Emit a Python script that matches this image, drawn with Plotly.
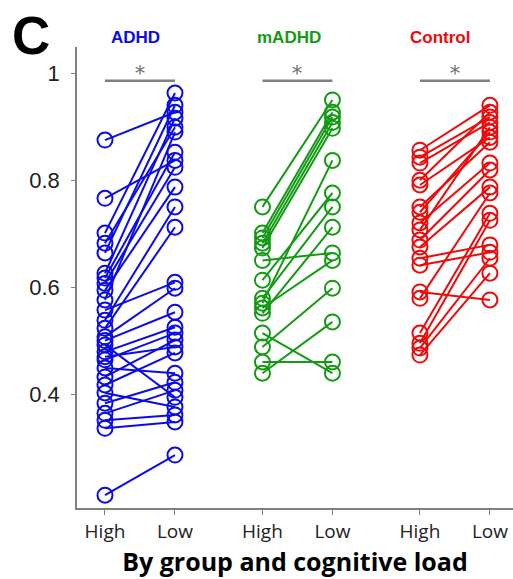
import plotly.graph_objects as go

# Paired scores per subject: (High load, Low load)
adhd_high = [0.875, 0.766, 0.701, 0.682, 0.664, 0.626, 0.617, 0.607, 0.594, 0.576,
             0.557, 0.538, 0.523, 0.507, 0.500, 0.492, 0.479, 0.470, 0.464, 0.449,
             0.432, 0.417, 0.402, 0.383, 0.364, 0.351, 0.336, 0.211]
adhd_low = [0.927, 0.837, 0.963, 0.899, 0.940, 0.916, 0.852, 0.824, 0.787, 0.890,
            0.609, 0.750, 0.712, 0.598, 0.553, 0.394, 0.525, 0.488, 0.514, 0.439,
            0.501, 0.477, 0.376, 0.422, 0.407, 0.361, 0.348, 0.286]

madhd_high = [0.750, 0.701, 0.692, 0.682, 0.673, 0.650, 0.613, 0.579, 0.570, 0.561,
              0.551, 0.514, 0.488, 0.460, 0.439]
madhd_low = [0.950, 0.927, 0.918, 0.908, 0.897, 0.664, 0.776, 0.750, 0.837, 0.650,
             0.712, 0.439, 0.598, 0.460, 0.535]

control_high = [0.856, 0.843, 0.832, 0.800, 0.791, 0.750, 0.740, 0.720, 0.707, 0.688,
                0.675, 0.654, 0.641, 0.591, 0.579, 0.514, 0.495, 0.486, 0.473]
control_low = [0.940, 0.918, 0.908, 0.927, 0.880, 0.871, 0.890, 0.832, 0.899, 0.819,
               0.787, 0.679, 0.665, 0.576, 0.776, 0.738, 0.725, 0.654, 0.626]

groups = ["ADHD", "mADHD", "Control"]
group_colors = ["#0b0be6", "#149a14", "#ee0a0a"]
positions = [(1.0, 2.0), (3.25, 4.25), (5.5, 6.5)]
title_x = [1.43, 3.63, 5.79]
tick_labels = ["High", "Low", "High", "Low", "High", "Low"]
sig_y = 0.986

fig = go.Figure()

data = [(adhd_high, adhd_low), (madhd_high, madhd_low), (control_high, control_low)]
for (hi, lo), (xh, xl), tx, color, name in zip(data, positions, title_x, group_colors, groups):
    xs, ys = [], []
    for h, l in zip(hi, lo):
        xs += [xh, xl, None]
        ys += [h, l, None]
    fig.add_trace(go.Scatter(
        x=xs, y=ys, mode="lines+markers", name=name,
        line=dict(color=color, width=2),
        marker=dict(symbol="circle-open", size=15, color=color,
                    line=dict(color=color, width=2)),
        showlegend=False, hoverinfo="skip"))
    # significance bar with asterisk
    fig.add_trace(go.Scatter(
        x=[xh, xl], y=[sig_y, sig_y], mode="lines",
        line=dict(color="#808080", width=2.5), showlegend=False, hoverinfo="skip"))
    fig.add_annotation(x=(xh + xl) / 2, y=sig_y, text="*", showarrow=False,
                       yanchor="bottom", yshift=-6,
                       font=dict(family="DejaVu Serif", size=20, color="#707070"))
    fig.add_annotation(x=tx, y=1.0, yref="paper", text="<b>%s</b>" % name,
                       showarrow=False, yanchor="middle", yshift=10,
                       font=dict(family="Liberation Sans", size=17, color=color))

# panel letter
fig.add_annotation(x=-0.106, y=1.0, xref="paper", yref="paper", text="<b>C</b>",
                   showarrow=False, xanchor="center", yanchor="middle", yshift=12,
                   borderpad=0,
                   font=dict(family="Liberation Sans", size=53, color="black"))

tick_x = [p for pair in positions for p in pair]
fig.update_xaxes(range=[0.6, 6.83], tickvals=tick_x, ticktext=tick_labels,
                 showline=True, linecolor="#808080", linewidth=1.5,
                 ticks="outside", ticklen=5, tickcolor="#808080",
                 showgrid=False, zeroline=False,
                 tickfont=dict(family="Open Sans", size=19, color="#222"),
                 title=dict(text="<b>By group and cognitive load</b>",
                            font=dict(family="Open Sans", size=25, color="black"),
                            standoff=3))
fig.update_yaxes(range=[0.187, 1.049], tickvals=[0.4, 0.6, 0.8, 1.0],
                 ticktext=["0.4", "0.6", "0.8", "1"],
                 showline=True, linecolor="#808080", linewidth=1.5,
                 ticks="outside", ticklen=4, tickcolor="#808080",
                 ticklabelstandoff=7,
                 showgrid=False, zeroline=False,
                 tickfont=dict(family="Liberation Sans", size=22, color="#222"))

fig.update_layout(width=513, height=579, plot_bgcolor="white", paper_bgcolor="white",
                  margin=dict(l=77, r=0, t=47, b=71))

fig.write_html("out.html")
